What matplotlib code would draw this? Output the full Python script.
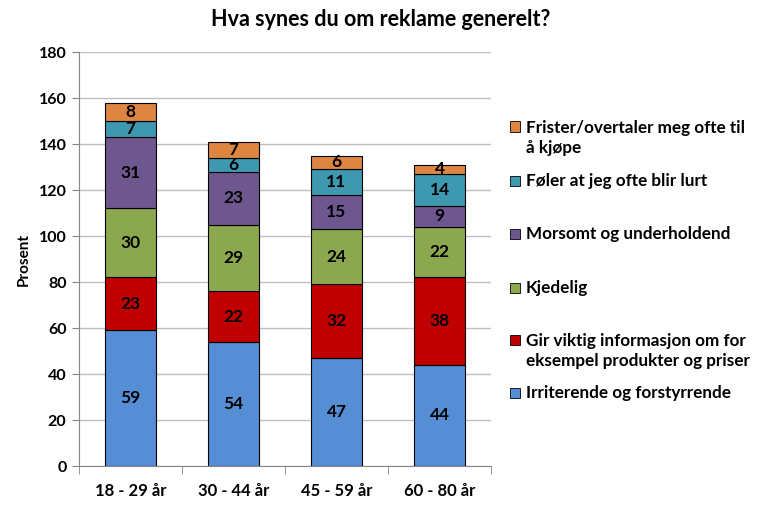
import matplotlib
matplotlib.use("Agg")
import matplotlib.pyplot as plt
from matplotlib.patches import Rectangle
import numpy as np

plt.rcParams['font.family'] = ['Lato', 'DejaVu Sans']
plt.rcParams['font.weight'] = 'bold'

categories = ["18 - 29 år", "30 - 44 år", "45 - 59 år", "60 - 80 år"]
series_names = [
    "Irriterende og forstyrrende",
    "Gir viktig informasjon om for\neksempel produkter og priser",
    "Kjedelig",
    "Morsomt og underholdend",
    "Føler at jeg ofte blir lurt",
    "Frister/overtaler meg ofte til\nå kjøpe",
]
irriterende = [59, 54, 47, 44]
informasjon = [23, 22, 32, 38]
kjedelig = [30, 29, 24, 22]
morsomt = [31, 23, 15, 9]
lurt = [7, 6, 11, 14]
frister = [8, 7, 6, 4]
series_values = [irriterende, informasjon, kjedelig, morsomt, lurt, frister]
colors = ["#558ED5", "#C00000", "#8CA84F", "#6E568E", "#3E98B0", "#DE8542"]
yticks = [0, 20, 40, 60, 80, 100, 120, 140, 160, 180]

W, H = 767, 505
fig = plt.figure(figsize=(W / 100, H / 100), dpi=100)
ax = fig.add_axes([79 / W, 1 - 466 / H, (491 - 79) / W, (466 - 52) / H])

x = np.arange(len(categories))
bottom = np.zeros(len(categories))
for vals, col in zip(series_values, colors):
    vals = np.array(vals, dtype=float)
    ax.bar(x, vals, 0.5, bottom=bottom, color=col, edgecolor="black",
           linewidth=0.8, zorder=3)
    for xi, b, v in zip(x, bottom, vals):
        ax.text(xi, b + v / 2, f"{int(v)}", ha="center", va="center",
                fontsize=12.5, fontweight="bold", color="black", zorder=4)
    bottom += vals

ax.set_xlim(-0.5, len(categories) - 0.5)
ax.set_ylim(0, 180)
ax.set_yticks(yticks)
ax.set_yticklabels([str(t) for t in yticks], fontsize=11.5, fontweight="bold")
ax.set_xticks(x)
ax.set_xticklabels(categories, fontsize=12, fontweight="bold")
ax.tick_params(axis="x", length=0, pad=12)
ax.set_xticks(np.arange(len(categories) + 1) - 0.5, minor=True)
ax.tick_params(axis="x", which="minor", length=6, color="#868686", direction="out")
ax.tick_params(axis="y", length=5, color="#868686", direction="out", pad=4)
ax.grid(axis="y", color="#BEBEBE", linewidth=1, zorder=0)
ax.set_axisbelow(True)
for s in ["top", "right"]:
    ax.spines[s].set_visible(False)
for s in ["left", "bottom"]:
    ax.spines[s].set_color("#868686")
ax.set_ylabel("Prosent", fontsize=11, fontweight="bold", labelpad=6)

fig.text(381 / W, 1 - 20 / H, "Hva synes du om reklame generelt?", ha="center",
         va="center", fontsize=15.5, fontweight="bold")

# legend (manual, Excel-like spacing)
legend_y = [138, 181, 234, 288, 351, 393]  # center pixel y for each entry (top->bottom)
order = list(range(len(series_names)))[::-1]
for yy, idx in zip(legend_y, order):
    name = series_names[idx]
    nlines = name.count("\n") + 1
    box_y = yy - (nlines - 1) * 11.5 if nlines > 1 else yy
    fig.patches.append(Rectangle((510 / W, 1 - (box_y + 5) / H), 10 / W, 10 / H,
                                 transform=fig.transFigure, facecolor=colors[idx],
                                 edgecolor="black", linewidth=0.6))
    fig.text(526 / W, 1 - yy / H, name, ha="left", va="center", fontsize=12.3,
             fontweight="bold", linespacing=1.3)

fig.savefig("out.png", dpi=100)
